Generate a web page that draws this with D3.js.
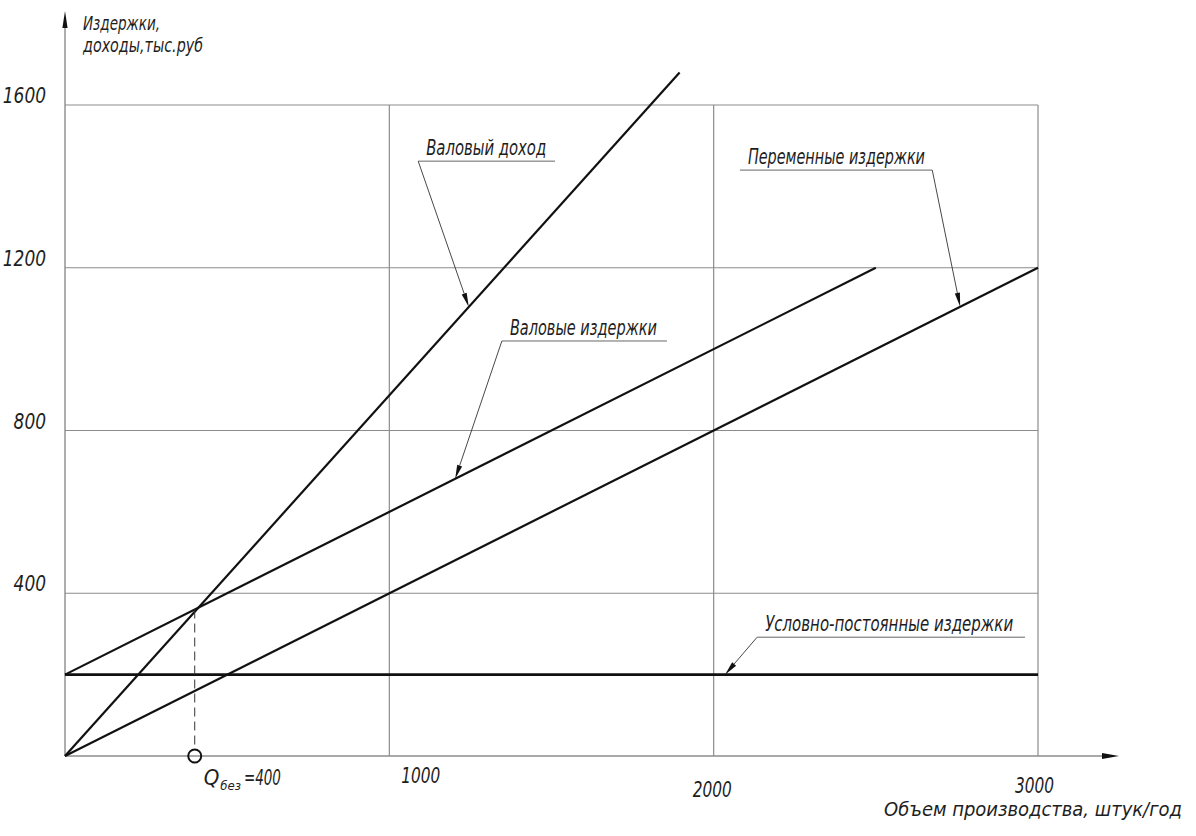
<!DOCTYPE html>
<html>
<head>
<meta charset="utf-8">
<script src="https://cdn.jsdelivr.net/npm/d3@7/dist/d3.min.js"></script>
<style>
  html, body { margin: 0; padding: 0; background: #fff; }
  svg { display: block; }
  text { font-family: "Liberation Sans Narrow", "DejaVu Sans Condensed", sans-serif; font-style: italic; fill: #1e1e1e; }
</style>
</head>
<body>
<svg id="chart" width="1196" height="836"></svg>
<script>
// ---- data ----
const xTicks = [1000, 2000, 3000];
const xTickLabels = ["1000", "2000", "3000"];
const yTicks = [400, 800, 1200, 1600];
const yTickLabels = ["400", "800", "1200", "1600"];

const fixedCosts    = [[0, 200], [3000, 200]];     // Условно-постоянные издержки
const variableCosts = [[0, 0], [3000, 1200]];      // Переменные издержки
const grossCosts    = [[0, 200], [2500, 1200]];    // Валовые издержки
const grossRevenue  = [[0, 0], [1895, 1680]];      // Валовый доход

const breakEvenQ = 400;
const breakEvenLabel = "=400";

const seriesNames = ["Валовый доход", "Переменные издержки", "Валовые издержки", "Условно-постоянные издержки"];
const yTitle = ["Издержки,", "доходы,тыс.руб"];
const xTitle = "Объем производства, штук/год";

// ---- layout ----
const svg = d3.select("#chart");
const x = d3.scaleLinear().domain([0, 3000]).range([65, 1038]);
const y = d3.scaleLinear().domain([0, 1600]).range([756, 105]);
const gridColor = "#8c8c8c";

// grid
svg.append("g").selectAll("line").data(yTicks).join("line")
  .attr("x1", x(0)).attr("x2", x(3000))
  .attr("y1", d => y(d)).attr("y2", d => y(d))
  .attr("stroke", gridColor).attr("stroke-width", 1.2);
svg.append("g").selectAll("line").data(xTicks).join("line")
  .attr("x1", d => x(d)).attr("x2", d => x(d))
  .attr("y1", y(0)).attr("y2", y(1600))
  .attr("stroke", gridColor).attr("stroke-width", 1.2);

// axes
svg.append("line").attr("x1", x(0)).attr("x2", 1106).attr("y1", y(0)).attr("y2", y(0))
  .attr("stroke", gridColor).attr("stroke-width", 1.4);
svg.append("path").attr("d", `M1119,${y(0)} L1102,${y(0)-3} L1102,${y(0)+3} Z`).attr("fill", "#111");
svg.append("line").attr("x1", x(0)).attr("x2", x(0)).attr("y1", y(0)).attr("y2", 26)
  .attr("stroke", gridColor).attr("stroke-width", 1.4);
svg.append("path").attr("d", `M${x(0)},11 L${x(0)-2.6},28 L${x(0)+2.6},28 Z`).attr("fill", "#111");

// y tick labels
svg.append("g").selectAll("text").data(yTicks).join("text")
  .attr("x", 46).attr("y", d => y(d) - 2)
  .attr("text-anchor", "end").attr("font-size", 22)
  .attr("textLength", (d, i) => yTickLabels[i].length * 10.8).attr("lengthAdjust", "spacingAndGlyphs")
  .text((d, i) => yTickLabels[i]);

// x tick labels (hand-placed as in drawing)
const xLabelShift = [[12, 27], [-21, 41], [-23, 37]];
svg.append("g").selectAll("text").data(xTicks).join("text")
  .attr("x", (d, i) => x(d) + xLabelShift[i][0])
  .attr("y", (d, i) => y(0) + xLabelShift[i][1])
  .attr("font-size", 22)
  .attr("textLength", 39).attr("lengthAdjust", "spacingAndGlyphs")
  .text((d, i) => xTickLabels[i]);

// titles
svg.append("text").attr("x", 83).attr("y", 30).attr("font-size", 19)
  .attr("textLength", 77).attr("lengthAdjust", "spacingAndGlyphs").text(yTitle[0]);
svg.append("text").attr("x", 83).attr("y", 52).attr("font-size", 19)
  .attr("textLength", 120).attr("lengthAdjust", "spacingAndGlyphs").text(yTitle[1]);
svg.append("text").attr("x", 1182).attr("y", 816).attr("text-anchor", "end").attr("font-size", 20)
  .attr("textLength", 298).attr("lengthAdjust", "spacingAndGlyphs").text(xTitle);

// series lines
const line = d3.line().x(d => x(d[0])).y(d => y(d[1]));
[grossRevenue, grossCosts, variableCosts].forEach(s => {
  svg.append("path").attr("d", line(s)).attr("fill", "none").attr("stroke", "#111").attr("stroke-width", 2.2);
});
svg.append("path").attr("d", line(fixedCosts)).attr("fill", "none").attr("stroke", "#111").attr("stroke-width", 2.6);

// break-even
function valueAt(s, q) {
  const [[x0, y0], [x1, y1]] = s;
  return y0 + (y1 - y0) * (q - x0) / (x1 - x0);
}
const beV = valueAt(grossCosts, breakEvenQ);
svg.append("line").attr("x1", x(breakEvenQ)).attr("x2", x(breakEvenQ))
  .attr("y1", y(beV)).attr("y2", y(0) - 7)
  .attr("stroke", "#333").attr("stroke-width", 1).attr("stroke-dasharray", "9,5");
svg.append("circle").attr("cx", x(breakEvenQ)).attr("cy", y(0)).attr("r", 6.5)
  .attr("fill", "none").attr("stroke", "#111").attr("stroke-width", 2);
const qt = svg.append("text").attr("x", x(breakEvenQ) + 9).attr("y", y(0) + 29).attr("font-size", 22);
qt.append("tspan").text("Q");
qt.append("tspan").attr("font-size", 13).attr("dy", 5).attr("dx", 1).text("без");
qt.append("tspan").attr("dy", -5).attr("dx", 3)
  .attr("textLength", 37).attr("lengthAdjust", "spacingAndGlyphs").text(breakEvenLabel);

// annotations (leader lines)
const annotations = [
  { text: seriesNames[0], series: grossRevenue,  lineY: 1462, x0: 1089, x1: 1511, elbow: "left",  tipX: 1245, len: 120 },
  { text: seriesNames[1], series: variableCosts, lineY: 1440, x0: 2081, x1: 2674, elbow: "right", tipX: 2760, len: 177 },
  { text: seriesNames[2], series: grossCosts,    lineY: 1020, x0: 1347, x1: 1856, elbow: "left",  tipX: 1203, len: 147 },
  { text: seriesNames[3], series: fixedCosts,    lineY: 292,  x0: 2134, x1: 2960, elbow: "left",  tipX: 2035, len: 248 }
];
annotations.forEach(a => {
  const ly = y(a.lineY);
  svg.append("line").attr("x1", x(a.x0)).attr("x2", x(a.x1)).attr("y1", ly).attr("y2", ly)
    .attr("stroke", "#555").attr("stroke-width", 0.9);
  const ex = a.elbow === "left" ? x(a.x0) : x(a.x1);
  const tx = x(a.tipX), ty = y(valueAt(a.series, a.tipX));
  const ang = Math.atan2(ty - ly, tx - ex);
  const L = 14, W = 2.6;
  const bx = tx - L * Math.cos(ang), by = ty - L * Math.sin(ang);
  svg.append("line").attr("x1", ex).attr("y1", ly).attr("x2", bx).attr("y2", by)
    .attr("stroke", "#333").attr("stroke-width", 0.9);
  svg.append("path")
    .attr("d", `M${tx},${ty} L${bx + W * Math.sin(ang)},${by - W * Math.cos(ang)} L${bx - W * Math.sin(ang)},${by + W * Math.cos(ang)} Z`)
    .attr("fill", "#111");
  svg.append("text").attr("x", x(a.x0) + 8).attr("y", ly - 6).attr("font-size", 22)
    .attr("textLength", a.len).attr("lengthAdjust", "spacingAndGlyphs")
    .text(a.text);
});
</script>
</body>
</html>
